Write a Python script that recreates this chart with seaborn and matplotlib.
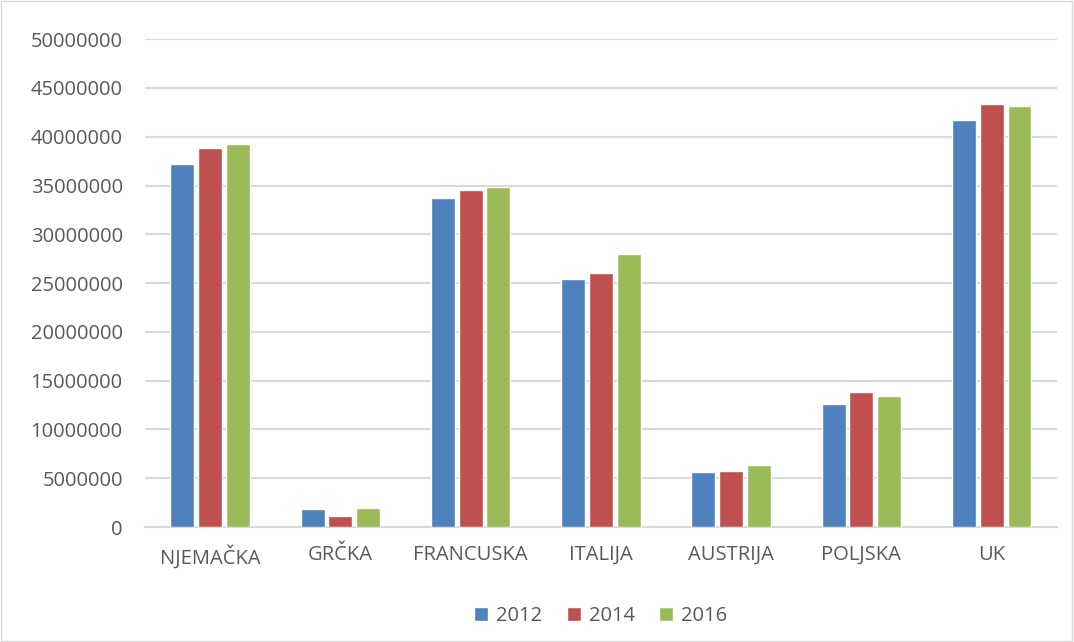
import matplotlib
matplotlib.use("Agg")
import matplotlib.pyplot as plt
import seaborn as sns
import pandas as pd
from matplotlib.patches import Rectangle

# Data
countries = ["NJEMAČKA", "GRČKA", "FRANCUSKA", "ITALIJA", "AUSTRIJA", "POLJSKA", "UK"]
years = ["2012", "2014", "2016"]
values_2012 = [37200000, 1900000, 33700000, 25400000, 5600000, 12600000, 41700000]
values_2014 = [38800000, 1150000, 34500000, 26050000, 5700000, 13850000, 43400000]
values_2016 = [39300000, 2000000, 34900000, 28000000, 6350000, 13450000, 43100000]
colors = ["#4F81BD", "#C0504D", "#9BBB59"]

rows = []
for year, vals in zip(years, [values_2012, values_2014, values_2016]):
    for c, v in zip(countries, vals):
        rows.append({"Country": c, "Year": year, "Value": v})
df = pd.DataFrame(rows)

sns.set_style("white")
plt.rcParams["font.family"] = ["Open Sans", "DejaVu Sans"]

fig = plt.figure(figsize=(10.74, 6.42), dpi=100)
ax = fig.add_axes([0.135, 0.179, 0.849, 0.76])

sns.barplot(data=df, x="Country", y="Value", hue="Year", order=countries,
            hue_order=years, palette=colors, width=0.64, saturation=1,
            errorbar=None, ax=ax, zorder=3)

# small gap between bars inside a group
for p in ax.patches:
    w = p.get_width()
    p.set_x(p.get_x() + w * 0.07)
    p.set_width(w * 0.86)

ax.set_ylim(0, 50000000)
ax.set_yticks(range(0, 50000001, 5000000))
ax.set_yticklabels([str(v) for v in range(0, 50000001, 5000000)])
ax.set_xlim(-0.5, len(countries) - 0.5)
ax.yaxis.grid(True, color="#D9D9D9", linewidth=1.5, zorder=0)
ax.set_axisbelow(True)
for s in ["top", "right", "left"]:
    ax.spines[s].set_visible(False)
ax.spines["bottom"].set_color("#D9D9D9")
ax.spines["bottom"].set_linewidth(1.5)
ax.tick_params(axis="both", length=0, labelsize=14.5, colors="#595959")
ax.tick_params(axis="x", pad=13)
ax.tick_params(axis="y", pad=16)
ax.set_xlabel("")
ax.set_ylabel("")

leg = ax.legend(loc="upper center", bbox_to_anchor=(0.5, -0.125), ncol=3,
                frameon=False, fontsize=14.5, handlelength=0.7, handleheight=0.7,
                handletextpad=0.4, columnspacing=1.2)
for t in leg.get_texts():
    t.set_color("#595959")

fig.patches.append(Rectangle((0.001, 0.001), 0.997, 0.997, transform=fig.transFigure,
                             fill=False, edgecolor="#D9D9D9", linewidth=1))

fig.savefig("out.png", dpi=100)
